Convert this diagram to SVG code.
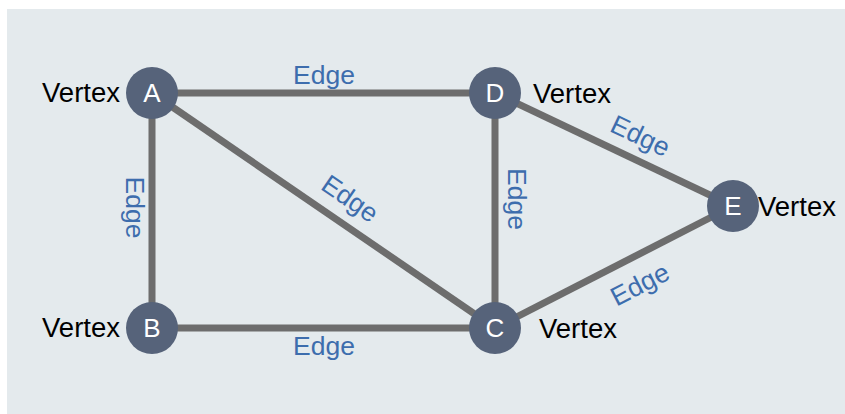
<svg xmlns="http://www.w3.org/2000/svg" width="845" height="414" viewBox="0 0 845 414">
<style>
.edge{stroke:#6d6d6d;stroke-width:7;fill:none}
.node{fill:#56637a}
.nl{font-family:"Liberation Sans",Arial,sans-serif;font-size:26px;fill:#ffffff;text-anchor:middle}
.vl{font-family:"Liberation Sans",Arial,sans-serif;font-size:27.5px;fill:#000000}
.el{font-family:"Liberation Sans",Arial,sans-serif;font-size:26.5px;fill:#3d6dad;text-anchor:middle}
</style>
<rect x="7" y="9" width="838" height="405" fill="#e4eaed"/>
<g id="connectors">
<line class="edge" x1="152" y1="93" x2="495" y2="93"/>
<line class="edge" x1="152" y1="93" x2="152" y2="328"/>
<line class="edge" x1="152" y1="328" x2="495" y2="328"/>
<line class="edge" x1="152" y1="93" x2="495" y2="328"/>
<line class="edge" x1="495" y1="93" x2="495" y2="328"/>
<line class="edge" x1="495" y1="93" x2="733" y2="206"/>
<line class="edge" x1="495" y1="328" x2="733" y2="206"/>
<text class="el" x="324" y="84">Edge</text>
<text class="el" x="324" y="355">Edge</text>
<text class="el" transform="translate(126,207.5) rotate(90)">Edge</text>
<text class="el" transform="translate(507.5,199) rotate(90)">Edge</text>
<text class="el" transform="translate(345,206) rotate(34.5)">Edge</text>
<text class="el" transform="translate(636.5,144) rotate(25.4)">Edge</text>
<text class="el" transform="translate(644,292.5) rotate(-27.3)">Edge</text>
</g>
<g id="A">
<circle class="node" cx="152" cy="93" r="26"/>
<text class="nl" x="152" y="102.3">A</text>
<text class="vl" x="120" y="102" text-anchor="end">Vertex</text>
</g>
<g id="B">
<circle class="node" cx="152" cy="328" r="26"/>
<text class="nl" x="152" y="337.3">B</text>
<text class="vl" x="120" y="337" text-anchor="end">Vertex</text>
</g>
<g id="C">
<circle class="node" cx="495" cy="328" r="26"/>
<text class="nl" x="495" y="337.3">C</text>
<text class="vl" x="539" y="338">Vertex</text>
</g>
<g id="D">
<circle class="node" cx="495" cy="93" r="26"/>
<text class="nl" x="495" y="102.3">D</text>
<text class="vl" x="533" y="103">Vertex</text>
</g>
<g id="E">
<circle class="node" cx="733" cy="206" r="26"/>
<text class="nl" x="733" y="215.3">E</text>
<text class="vl" x="758" y="216">Vertex</text>
</g>
</svg>
